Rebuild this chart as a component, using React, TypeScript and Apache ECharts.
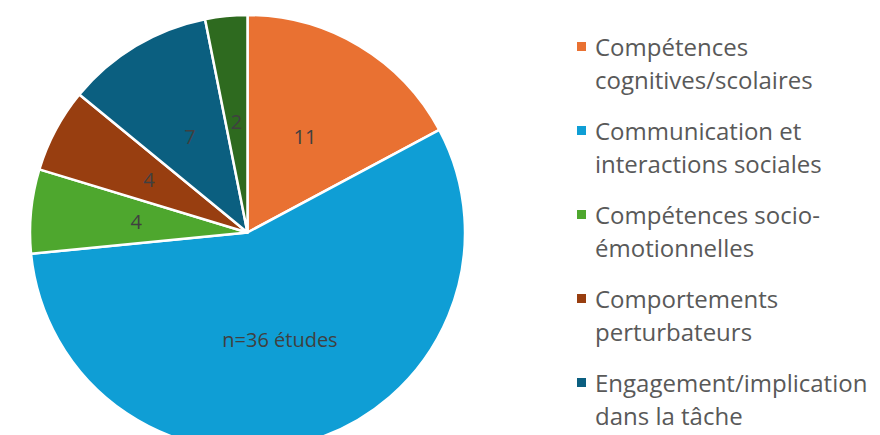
import React, { useEffect, useRef } from "react";
import * as echarts from "echarts";

const categories = [
  "Compétences cognitives/scolaires",
  "Communication et interactions sociales",
  "Compétences socio-émotionnelles",
  "Comportements perturbateurs",
  "Engagement/implication dans la tâche",
  "Autres",
];
const legendLines = [
  ["Compétences", "cognitives/scolaires"],
  ["Communication et", "interactions sociales"],
  ["Compétences socio-", "émotionnelles"],
  ["Comportements", "perturbateurs"],
  ["Engagement/implication", "dans la tâche"],
  ["Autres", ""],
];
const values = [11, 36, 4, 4, 7, 2];
const colors = ["#E97132", "#0F9ED5", "#4EA72E", "#983E10", "#0B5F80", "#2E6A1F"];
const FONT = "'Open Sans', 'Noto Sans', sans-serif";

export default function App() {
  const ref = useRef<HTMLDivElement>(null);
  useEffect(() => {
    if (!ref.current) return;
    const chart = echarts.init(ref.current, undefined, { renderer: "svg" });
    chart.setOption({
      animation: false,
      color: colors,
      legend: {
        orient: "vertical",
        left: 575,
        top: -3,
        height: 2000,
        padding: 0,
        itemGap: -15,
        itemWidth: 11,
        itemHeight: 11,
        icon: "rect",
        selectedMode: false,
        data: categories,
        formatter: (name: string) => {
          const l = legendLines[categories.indexOf(name)];
          return `{t| }\n{t|${l[0]}}\n{t|${l[1] || " "}}`;
        },
        textStyle: {
          fontFamily: FONT,
          fontSize: 24,
          lineHeight: 33,
          color: "#595959",
          rich: {
            t: {
              fontFamily: FONT,
              fontSize: 24,
              lineHeight: 33,
              color: "#595959",
              padding: [0, 0, 0, 3],
            },
          },
        },
      },
      series: [
        {
          type: "pie",
          center: [247.5, 232.5],
          radius: 217.5,
          startAngle: 90,
          clockwise: true,
          silent: true,
          emphasis: { disabled: true },
          itemStyle: { borderColor: "#ffffff", borderWidth: 2.5 },
          label: {
            show: true,
            position: "inside",
            fontFamily: FONT,
            fontSize: 20,
            color: "#404040",
            formatter: (p: any) =>
              p.dataIndex === 1 ? `n=${p.value} études` : String(p.value),
          },
          labelLine: { show: false },
          data: categories.map((name, i) => ({ name, value: values[i] })),
        },
      ],
    });
    return () => chart.dispose();
  }, []);
  return (
    <div
      ref={ref}
      style={{ position: "fixed", left: 0, top: 0, width: 880, height: 435, background: "#fff" }}
    />
  );
}
